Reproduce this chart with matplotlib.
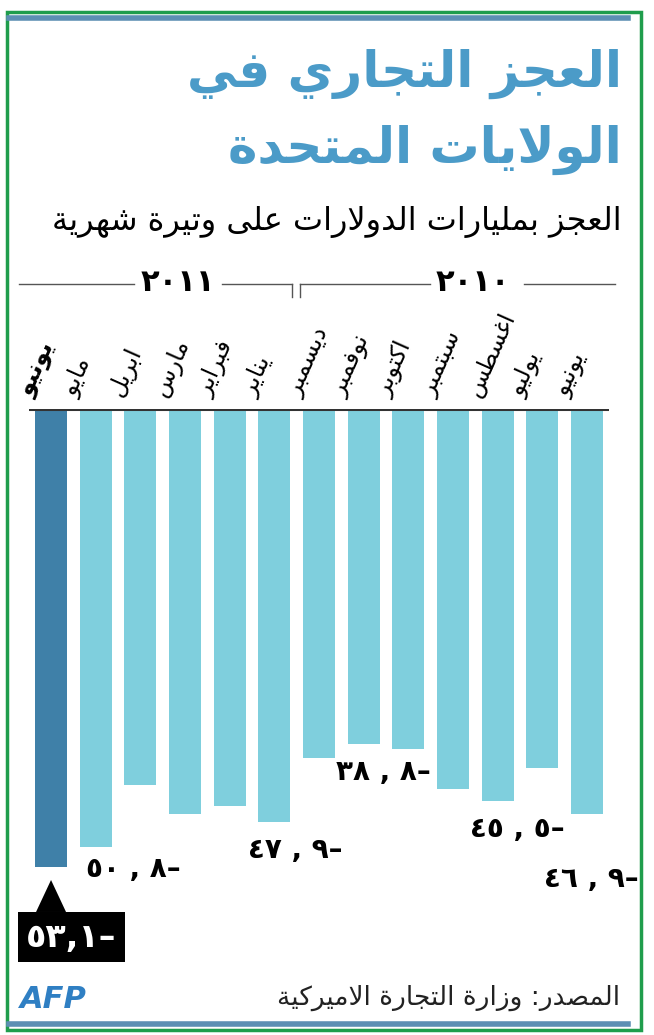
import matplotlib
matplotlib.use("Agg")
from matplotlib import pyplot as plt
from matplotlib.patches import Rectangle, Polygon
import numpy as np

# data, left to right as printed (June 2011 ... June 2010)
months = ["يونيو", "مايو", "ابريل", "مارس", "فبراير", "يناير",
          "ديسمبر", "نوفمبر", "اكتوبر", "سبتمبر", "اغسطس", "يوليو", "يونيو"]
deficit = [-53.1, -50.8, -43.6, -46.9, -46.0, -47.9,
           -40.5, -38.8, -39.4, -44.1, -45.5, -41.6, -46.9]
labelled = [1, 5, 7, 10, 12]
years = ["٢٠١١", "٢٠١٠"]

title_1 = "العجز التجاري في"
title_2 = "الولايات المتحدة"
subtitle = "العجز بمليارات الدولارات على وتيرة شهرية"
source = "المصدر: وزارة التجارة الاميركية"

# --- simple arabic shaping (matplotlib does no shaping / bidi) ---
FORMS = {
    'ا': (0xFE8D, 2), 'أ': (0xFE83, 2), 'إ': (0xFE87, 2), 'آ': (0xFE81, 2),
    'ب': (0xFE8F, 4), 'ة': (0xFE93, 2), 'ت': (0xFE95, 4), 'ث': (0xFE99, 4),
    'ج': (0xFE9D, 4), 'ح': (0xFEA1, 4), 'خ': (0xFEA5, 4), 'د': (0xFEA9, 2),
    'ذ': (0xFEAB, 2), 'ر': (0xFEAD, 2), 'ز': (0xFEAF, 2), 'س': (0xFEB1, 4),
    'ش': (0xFEB5, 4), 'ص': (0xFEB9, 4), 'ض': (0xFEBD, 4), 'ط': (0xFEC1, 4),
    'ظ': (0xFEC5, 4), 'ع': (0xFEC9, 4), 'غ': (0xFECD, 4), 'ف': (0xFED1, 4),
    'ق': (0xFED5, 4), 'ك': (0xFED9, 4), 'ل': (0xFEDD, 4), 'م': (0xFEE1, 4),
    'ن': (0xFEE5, 4), 'ه': (0xFEE9, 4), 'و': (0xFEED, 2), 'ى': (0xFEEF, 2),
    'ي': (0xFEF1, 4),
}
LAM_ALEF = {'ا': 0xFEFB, 'أ': 0xFEF7, 'إ': 0xFEF9, 'آ': 0xFEF5}


def shape(text):
    out = []
    i = 0
    prev_joins = False
    while i < len(text):
        c = text[i]
        if c not in FORMS:
            out.append(c)
            prev_joins = False
            i += 1
            continue
        if c == 'ل' and i + 1 < len(text) and text[i + 1] in LAM_ALEF:
            out.append(chr(LAM_ALEF[text[i + 1]] + (1 if prev_joins else 0)))
            prev_joins = False
            i += 2
            continue
        base, nf = FORMS[c]
        nxt = text[i + 1] if i + 1 < len(text) else ''
        joins_next = nf == 4 and nxt in FORMS
        if prev_joins and joins_next:
            code = base + 3
        elif prev_joins:
            code = base + 1
        elif joins_next:
            code = base + 2
        else:
            code = base
        out.append(chr(code))
        prev_joins = joins_next
        i += 1
    return ''.join(reversed(out))


def arabic_num(v, spaced=True):
    digits = "٠١٢٣٤٥٦٧٨٩"
    s = "%.1f" % abs(v)
    s = ''.join(digits[int(ch)] if ch.isdigit() else ch for ch in s)
    sep = " , " if spaced else ","
    return s.replace(".", sep) + "–"


W, H = 654, 1035
fig = plt.figure(figsize=(W / 100, H / 100), dpi=100)


def fx(x):
    return x / W


def fy(y):
    return 1 - y / H


# frame
fig.patches.append(Rectangle((fx(7), fy(1030)), fx(641) - fx(7), fy(12) - fy(1030),
                             transform=fig.transFigure, fill=False, ec="#1f9d4c", lw=2.5))
for yy in (18, 1024):
    fig.lines.append(plt.Line2D([fx(9), fx(628)], [fy(yy), fy(yy)], transform=fig.transFigure,
                                color="#5d8fb3", lw=4))

blue = "#4b9bc8"
fig.text(fx(622), fy(74), shape(title_1), ha="right", va="center", fontsize=36,
         fontweight="bold", color=blue)
fig.text(fx(622), fy(150), shape(title_2), ha="right", va="center", fontsize=36,
         fontweight="bold", color=blue)
fig.text(fx(622), fy(222), shape(subtitle), ha="right", va="center", fontsize=23,
         color="black")

# year bracket
gray = "#555555"
for xs in ([19, 134], [222, 292], [300, 430], [524, 615]):
    fig.lines.append(plt.Line2D([fx(xs[0]), fx(xs[1])], [fy(284), fy(284)],
                                transform=fig.transFigure, color=gray, lw=1))
for xx in (292, 300):
    fig.lines.append(plt.Line2D([fx(xx), fx(xx)], [fy(284), fy(297)],
                                transform=fig.transFigure, color=gray, lw=1))
fig.text(fx(178), fy(283), years[0], ha="center", va="center", fontsize=22,
         fontweight="bold")
fig.text(fx(473), fy(283), years[1], ha="center", va="center", fontsize=22,
         fontweight="bold")

# bars
ax = fig.add_axes([fx(28.7), fy(926.5), fx(609.3) - fx(28.7), fy(409) - fy(926.5)])
x = np.arange(len(months))
colors = ["#3f80a8"] + ["#7fcfdd"] * (len(months) - 1)
ax.bar(x, deficit, width=0.72, color=colors)
ax.axhline(0, color="#333333", lw=2.2, zorder=3)
ax.set_xlim(-0.5, len(months) - 0.5)
ax.set_ylim(-60, 0)
ax.axis("off")

for i, m in enumerate(months):
    ax.annotate(shape(m), (i - 0.32, 0), xytext=(0, 9), textcoords="offset pixels",
                rotation=66, rotation_mode="anchor", ha="left", va="bottom",
                fontsize=17, fontweight="bold" if i == 0 else "normal", color="black")

label_dx = {1: 6, 5: -10, 7: -12, 10: -12, 12: -27}
label_dy = {1: -22, 5: -28, 7: -28, 10: -28, 12: -65}
for i in labelled:
    ax.annotate(arabic_num(deficit[i]), (i - 0.36, deficit[i]),
                xytext=(label_dx[i], label_dy[i]), textcoords="offset pixels",
                ha="left", va="center", fontsize=20, fontweight="bold",
                annotation_clip=False)

# highlighted value box
bx, by = ax.transData.transform((0, deficit[0]))
bx, by = bx / W, by / H
fig.patches.append(Polygon([(bx, by - 13 / H), (bx - 15 / W, by - 45 / H), (bx + 15 / W, by - 45 / H)],
                           closed=True, transform=fig.transFigure, fc="black", ec="none"))
fig.patches.append(Rectangle((fx(18), fy(962)), fx(125) - fx(18), fy(912) - fy(962),
                             transform=fig.transFigure, fc="black", ec="none"))
fig.text(fx(71), fy(938), arabic_num(deficit[0], spaced=False), ha="center", va="center",
         fontsize=24, fontweight="bold", color="white")

fig.text(fx(620), fy(998), shape(source), ha="right", va="center", fontsize=19,
         color="#222222")
fig.text(fx(20), fy(1000), "AFP", ha="left", va="center", fontsize=22,
         fontweight="bold", fontstyle="italic", color="#2f7fc3")

fig.savefig("out.png", dpi=100)
